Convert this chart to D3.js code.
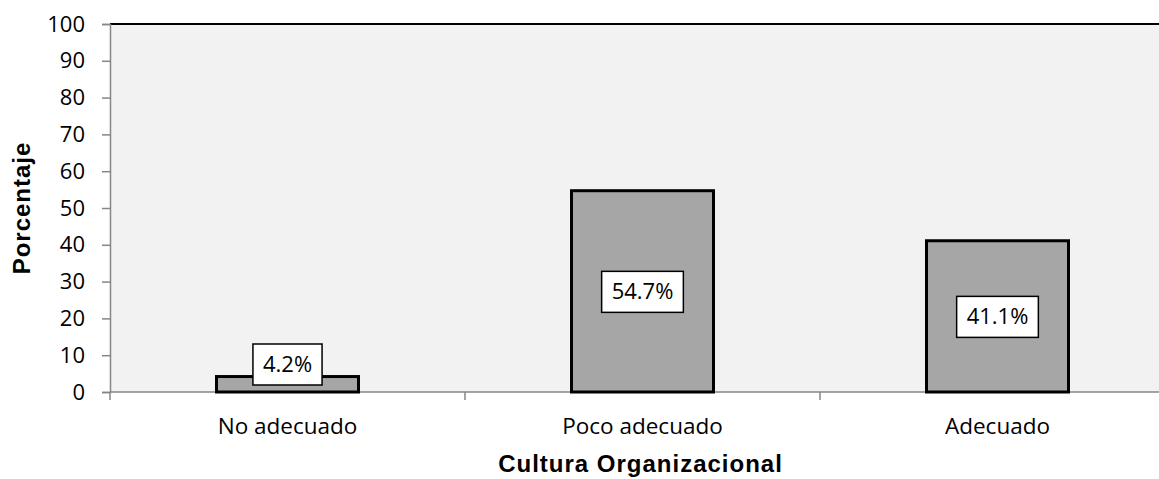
<!DOCTYPE html>
<html>
<head>
<meta charset="utf-8">
<script src="https://cdn.jsdelivr.net/npm/d3@7"></script>
<style>
  body { margin: 0; background: #fff; }
</style>
</head>
<body>
<div id="chart"></div>
<script>
const categories = ['No adecuado', 'Poco adecuado', 'Adecuado'];
const values = [4.2, 54.7, 41.1];
const yTicks = [0, 10, 20, 30, 40, 50, 60, 70, 80, 90, 100];

const width = 1159, height = 479;
const plotLeft = 110, plotTop = 24, plotRight = 1175, plotBottom = 392;
const bodyFont = '"Open Sans", sans-serif';
const titleFont = '"Liberation Sans", Arial, sans-serif';

const svg = d3.select('#chart').append('svg')
    .attr('width', width)
    .attr('height', height);

const x = d3.scaleBand()
    .domain(categories)
    .range([plotLeft, plotRight])
    .paddingInner(0.6)
    .paddingOuter(0.3);

const xOuter = d3.scaleBand()
    .domain(categories)
    .range([plotLeft, plotRight]);

const y = d3.scaleLinear()
    .domain([0, 100])
    .range([plotBottom, plotTop]);

// plot background
svg.append('rect')
    .attr('x', plotLeft).attr('y', plotTop)
    .attr('width', plotRight - plotLeft).attr('height', plotBottom - plotTop)
    .attr('fill', '#f2f2f2');

svg.append('line')
    .attr('x1', plotLeft).attr('x2', plotRight)
    .attr('y1', plotTop).attr('y2', plotTop)
    .attr('stroke', '#000').attr('stroke-width', 2);

// y axis
const yAxis = svg.append('g')
    .attr('transform', `translate(${plotLeft},0)`)
    .call(d3.axisLeft(y).tickValues(yTicks).tickSize(8).tickPadding(17));
yAxis.select('.domain').attr('stroke', '#868686').attr('stroke-width', 1.5);
yAxis.selectAll('.tick line').attr('stroke', '#868686').attr('stroke-width', 1.5);
yAxis.selectAll('.tick text')
    .attr('font-size', 22)
    .attr('fill', '#000')
    .attr('font-family', bodyFont);

// x axis
const xAxis = svg.append('g')
    .attr('transform', `translate(0,${plotBottom})`);
xAxis.append('line')
    .attr('x1', plotLeft).attr('x2', plotRight)
    .attr('stroke', '#868686').attr('stroke-width', 1.5);
xAxis.selectAll('.sep')
    .data(categories)
    .enter().append('line')
    .attr('x1', d => xOuter(d)).attr('x2', d => xOuter(d))
    .attr('y1', 0).attr('y2', 8)
    .attr('stroke', '#868686').attr('stroke-width', 1.5);
xAxis.selectAll('.lbl')
    .data(categories)
    .enter().append('text')
    .attr('x', d => x(d) + x.bandwidth() / 2)
    .attr('y', 42)
    .attr('text-anchor', 'middle')
    .attr('font-family', bodyFont)
    .attr('font-size', 22.5)
    .text(d => d);

// bars
svg.selectAll('.bar')
    .data(values)
    .enter().append('rect')
    .attr('x', (d, i) => x(categories[i]))
    .attr('y', d => y(d))
    .attr('width', x.bandwidth())
    .attr('height', d => y(0) - y(d))
    .attr('fill', '#a6a6a6')
    .attr('stroke', '#000')
    .attr('stroke-width', 3);

// data labels
const labels = svg.selectAll('.dl')
    .data(values)
    .enter().append('g')
    .attr('transform', (d, i) => {
        const cx = x(categories[i]) + x.bandwidth() / 2;
        const cy = Math.min((y(d) + y(0)) / 2, y(0) - 28);
        return `translate(${cx},${cy})`;
    });
labels.append('rect')
    .attr('y', -20)
    .attr('height', 41)
    .attr('fill', '#fff')
    .attr('stroke', '#000')
    .attr('stroke-width', 1.5);
labels.append('text')
    .attr('text-anchor', 'middle')
    .attr('dy', '0.36em')
    .attr('font-family', bodyFont)
    .attr('font-size', 22)
    .text(d => d.toFixed(1) + '%');
labels.each(function() {
    const g = d3.select(this);
    const w = g.select('text').node().getComputedTextLength() + 20;
    g.select('rect').attr('x', -w / 2).attr('width', w);
});

// axis titles
svg.append('text')
    .attr('x', (plotLeft + plotRight) / 2 - 2).attr('y', 472)
    .attr('text-anchor', 'middle')
    .attr('font-family', titleFont)
    .attr('font-weight', 'bold')
    .attr('font-size', 24)
    .attr('letter-spacing', 1)
    .text('Cultura Organizacional');

svg.append('text')
    .attr('transform', 'translate(30,208) rotate(-90)')
    .attr('text-anchor', 'middle')
    .attr('font-family', titleFont)
    .attr('font-weight', 'bold')
    .attr('font-size', 24)
    .attr('letter-spacing', 1)
    .text('Porcentaje');
</script>
</body>
</html>
